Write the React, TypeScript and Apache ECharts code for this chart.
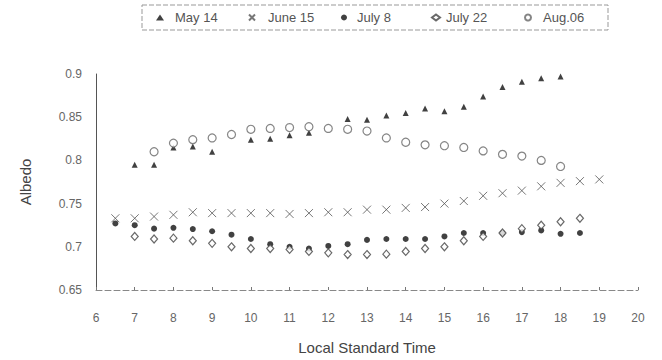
import React, { useEffect, useRef } from "react";
import * as echarts from "echarts";

const seriesNames = ["May 14", "June 15", "July 8", "July 22", "Aug.06"];

const may14Times = [7, 7.5, 8, 8.5, 9, 10, 10.5, 11, 11.5, 12.5, 13, 13.5, 14, 14.5, 15, 15.5, 16, 16.5, 17, 17.5, 18];
const may14Values = [0.795, 0.795, 0.815, 0.816, 0.81, 0.824, 0.825, 0.829, 0.832, 0.848, 0.847, 0.852, 0.855, 0.86, 0.857, 0.862, 0.874, 0.885, 0.891, 0.895, 0.897];

const june15Times = [6.5, 7, 7.5, 8, 8.5, 9, 9.5, 10, 10.5, 11, 11.5, 12, 12.5, 13, 13.5, 14, 14.5, 15, 15.5, 16, 16.5, 17, 17.5, 18, 18.5, 19];
const june15Values = [0.733, 0.733, 0.735, 0.737, 0.74, 0.739, 0.739, 0.739, 0.739, 0.738, 0.739, 0.74, 0.74, 0.743, 0.743, 0.745, 0.746, 0.75, 0.753, 0.759, 0.762, 0.765, 0.77, 0.774, 0.776, 0.778];

const july8Times = [6.5, 7, 7.5, 8, 8.5, 9, 9.5, 10, 10.5, 11, 11.5, 12, 12.5, 13, 13.5, 14, 14.5, 15, 15.5, 16, 16.5, 17, 17.5, 18, 18.5];
const july8Values = [0.727, 0.725, 0.721, 0.722, 0.7205, 0.718, 0.714, 0.709, 0.703, 0.7, 0.698, 0.701, 0.703, 0.708, 0.709, 0.709, 0.709, 0.712, 0.716, 0.716, 0.716, 0.717, 0.719, 0.715, 0.716];

const july22Times = [7, 7.5, 8, 8.5, 9, 9.5, 10, 10.5, 11, 11.5, 12, 12.5, 13, 13.5, 14, 14.5, 15, 15.5, 16, 16.5, 17, 17.5, 18, 18.5];
const july22Values = [0.712, 0.709, 0.71, 0.707, 0.704, 0.7, 0.698, 0.698, 0.697, 0.6946, 0.693, 0.691, 0.691, 0.6915, 0.6946, 0.698, 0.7, 0.707, 0.712, 0.716, 0.721, 0.725, 0.729, 0.733];

const aug06Times = [7.5, 8, 8.5, 9, 9.5, 10, 10.5, 11, 11.5, 12, 12.5, 13, 13.5, 14, 14.5, 15, 15.5, 16, 16.5, 17, 17.5, 18];
const aug06Values = [0.81, 0.82, 0.824, 0.826, 0.83, 0.836, 0.837, 0.838, 0.839, 0.837, 0.836, 0.834, 0.826, 0.821, 0.818, 0.817, 0.815, 0.811, 0.807, 0.805, 0.8, 0.793];

const xTicks = { min: 6, max: 20, interval: 1 };
const yTicks = { min: 0.65, max: 0.9, interval: 0.05 };

const zip = (t: number[], v: number[]) => t.map((x, i) => [x, v[i]]);

const FONT = "'Liberation Sans', Arial, sans-serif";

export default function App() {
  const ref = useRef<HTMLDivElement>(null);
  useEffect(() => {
    document.body.style.margin = "0";
    const chart = echarts.init(ref.current!, null, { renderer: "svg" });
    const legendIconCenters = [160, 252, 345, 435, 528];
    const legendTextStarts = [175, 268, 358, 445, 543];
    const itemW = 8;
    chart.setOption({
      animation: false,
      backgroundColor: "#fff",
      textStyle: { fontFamily: FONT },
      legend: seriesNames.map((n, i) => ({
        data: [n],
        left: legendIconCenters[i] - itemW / 2,
        top: 11,
        padding: 0,
        itemWidth: itemW,
        itemHeight: 6,
        textStyle: {
          fontFamily: FONT,
          fontSize: 13,
          color: "#555",
          padding: [0, 0, 0, Math.max(0, legendTextStarts[i] - legendIconCenters[i] - itemW / 2 - 5)],
        },
      })),
      graphic: [
        {
          type: "rect",
          shape: { x: 142, y: 5, width: 466, height: 25 },
          style: { fill: "none", stroke: "#999", lineWidth: 1, lineDash: [5, 2] },
          silent: true,
        },
      ],
      grid: { left: 96, right: 24, top: 74, bottom: 67 },
      xAxis: {
        type: "value",
        min: xTicks.min,
        max: xTicks.max,
        interval: xTicks.interval,
        name: "Local Standard Time",
        nameLocation: "middle",
        nameGap: 50,
        nameTextStyle: { fontFamily: FONT, fontSize: 15, color: "#444" },
        axisLine: { show: true, lineStyle: { color: "#888", type: [6, 3], width: 1 } },
        axisTick: { show: true, inside: true, length: 3, lineStyle: { color: "#777" } },
        axisLabel: { margin: 22, fontSize: 12, color: "#666", fontFamily: FONT },
        splitLine: { show: false },
      },
      yAxis: {
        type: "value",
        min: yTicks.min,
        max: yTicks.max,
        interval: yTicks.interval,
        name: "Albedo",
        nameLocation: "middle",
        nameGap: 63,
        nameRotate: 90,
        nameTextStyle: { fontFamily: FONT, fontSize: 15, color: "#444" },
        axisLine: { show: true, lineStyle: { color: "#555", width: 1 } },
        axisTick: { show: false },
        axisLabel: { margin: 14, fontSize: 12, color: "#666", fontFamily: FONT },
        splitLine: { show: false },
      },
      series: [
        {
          name: "May 14",
          type: "scatter",
          symbol: "triangle",
          symbolSize: [6, 6],
          itemStyle: { color: "#111" },
          data: zip(may14Times, may14Values),
          z: 2,
        },
        {
          name: "June 15",
          type: "scatter",
          symbol: "path://M0,0L10,10M10,0L0,10",
          symbolSize: 8,
          itemStyle: { color: "transparent", borderColor: "#555", borderWidth: 1 },
          data: zip(june15Times, june15Values),
          z: 2,
        },
        {
          name: "July 8",
          type: "scatter",
          symbol: "circle",
          symbolSize: 6,
          itemStyle: { color: "#111" },
          data: zip(july8Times, july8Values),
          z: 2,
        },
        {
          name: "July 22",
          type: "scatter",
          symbol: "diamond",
          symbolSize: [7, 8],
          itemStyle: { color: "#fff", borderColor: "#444", borderWidth: 1.2 },
          data: zip(july22Times, july22Values),
          z: 3,
        },
        {
          name: "Aug.06",
          type: "scatter",
          symbol: "circle",
          symbolSize: 8,
          itemStyle: { color: "#fff", borderColor: "#666", borderWidth: 1.2 },
          data: zip(aug06Times, aug06Values),
          z: 3,
        },
      ],
    });
    return () => chart.dispose();
  }, []);
  return <div ref={ref} style={{ width: 662, height: 360 }} />;
}
